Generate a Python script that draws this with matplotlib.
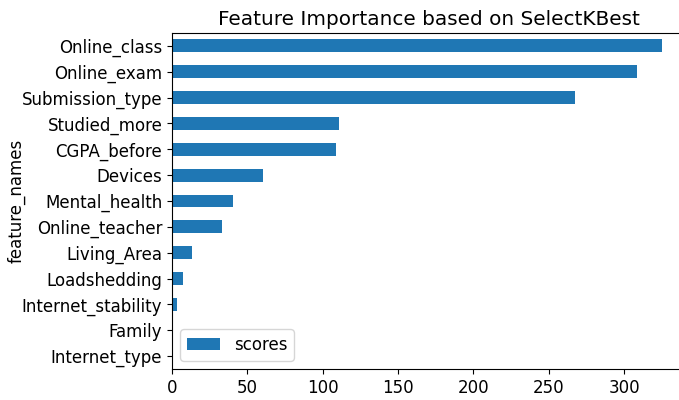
import matplotlib.pyplot as plt
import numpy as np

feature_names = ["Internet_type", "Family", "Internet_stability", "Loadshedding",
                 "Living_Area", "Online_teacher", "Mental_health", "Devices",
                 "CGPA_before", "Studied_more", "Submission_type", "Online_exam",
                 "Online_class"]
scores = [0.1, 0.3, 3.3, 7.5, 13.5, 33.2, 40.3, 60.6, 108.6, 110.8, 267.4, 308.3, 325.0]

plt.rcParams['font.size'] = 12

fig = plt.figure(figsize=(6.79, 4.0), dpi=100)
# axes run slightly past the right edge of the figure
ax = fig.add_axes([0.2533, 0.0775, 0.757, 0.84])

pos = np.arange(len(feature_names))
ax.barh(pos, scores, height=0.5, color='#1f77b4', label='scores')
ax.set_yticks(pos)
ax.set_yticklabels(feature_names)
ax.set_ylim(-0.5, len(feature_names) - 0.5)
ax.set_xlim(0, 341)
ax.set_xticks([0, 50, 100, 150, 200, 250, 300])
ax.set_ylabel("feature_names")
ax.yaxis.set_label_coords(-0.285, 0.5)
ax.set_title("Feature Importance based on SelectKBest", fontsize=14.4)
ax.legend(loc='lower left')

plt.savefig("out.png", dpi=100)
